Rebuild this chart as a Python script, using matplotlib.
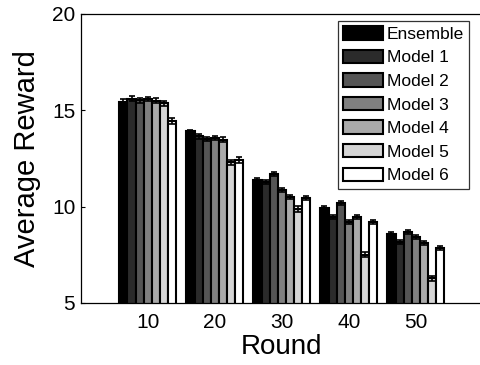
import numpy as np
import matplotlib
matplotlib.use("Agg")
import matplotlib.pyplot as plt

plt.rcParams['font.family'] = ['Liberation Sans', 'DejaVu Sans']

rounds = ["10", "20", "30", "40", "50"]
series_names = ["Ensemble", "Model 1", "Model 2", "Model 3", "Model 4", "Model 5", "Model 6"]

ensemble = [15.45, 13.90, 11.38, 9.93, 8.56]
model1 = [15.60, 13.65, 11.28, 9.46, 8.18]
model2 = [15.52, 13.50, 11.70, 10.19, 8.67]
model3 = [15.58, 13.55, 10.86, 9.22, 8.44]
model4 = [15.50, 13.48, 10.50, 9.48, 8.10]
model5 = [15.36, 12.30, 9.88, 7.50, 6.28]
model6 = [14.45, 12.42, 10.45, 9.22, 7.84]

errors = [
    [0.12, 0.10, 0.10, 0.10, 0.10],
    [0.12, 0.12, 0.10, 0.12, 0.10],
    [0.12, 0.12, 0.12, 0.10, 0.10],
    [0.12, 0.12, 0.10, 0.10, 0.10],
    [0.12, 0.12, 0.10, 0.10, 0.10],
    [0.14, 0.14, 0.14, 0.14, 0.14],
    [0.14, 0.14, 0.10, 0.10, 0.10],
]

values = [ensemble, model1, model2, model3, model4, model5, model6]
grays = [0.0, 1/6, 2/6, 3/6, 4/6, 5/6, 1.0]

fig = plt.figure(figsize=(4.81, 3.65), dpi=100)
ax = fig.add_axes([0.168, 0.170, 0.836, 0.792])

n = len(values)
x = np.arange(1, len(rounds) + 1)
group_w = 0.85
bw = group_w / n

for i, (vals, g, err) in enumerate(zip(values, grays, errors)):
    pos = x - group_w / 2 + bw * (i + 0.5)
    ax.bar(pos, vals, width=bw, color=str(g), edgecolor='black', linewidth=1.5,
           label=series_names[i], zorder=2)
    ax.errorbar(pos, vals, yerr=err, fmt='none', ecolor='black', elinewidth=1.2,
                capsize=2.2, capthick=1.2, zorder=3)

ax.set_xlim(0, 6)
ax.set_ylim(5, 20)
ax.set_xticks(x)
ax.set_xticklabels(rounds)
ax.set_yticks([5, 10, 15, 20])
ax.tick_params(direction='in', labelsize=15, length=3, width=0.8,
               top=False, right=False)
ax.tick_params(axis='x', pad=7)
ax.tick_params(axis='y', pad=4)
ax.set_xlabel('Round', fontsize=20, labelpad=2)
ax.set_ylabel('Average Reward', fontsize=21, labelpad=8)
for s in ax.spines.values():
    s.set_linewidth(0.9)

leg = ax.legend(loc='upper left', bbox_to_anchor=(0.64, 0.976), fontsize=12.5,
                frameon=True, fancybox=False, edgecolor='black',
                handlelength=2.3, handleheight=0.82, handletextpad=0.2,
                labelspacing=0.45, borderpad=0.3, borderaxespad=0)
leg.get_frame().set_linewidth(0.9)

fig.savefig('out.png', dpi=100)
